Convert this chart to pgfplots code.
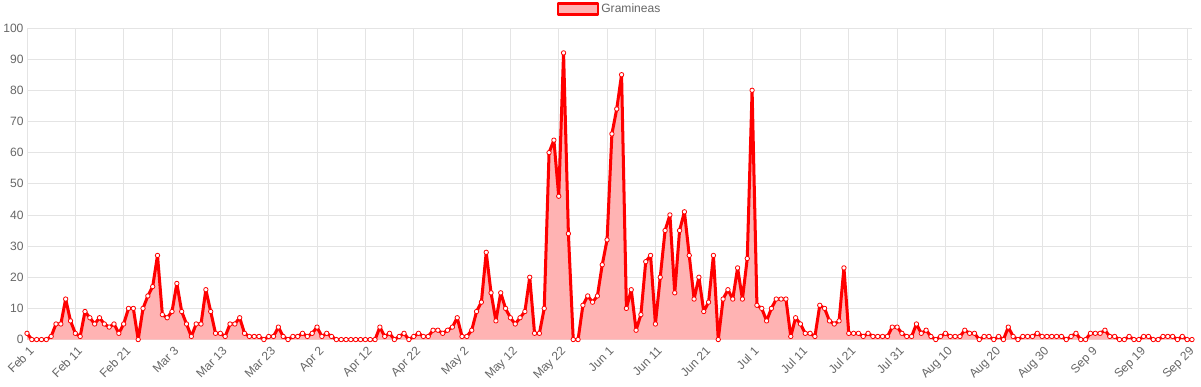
\documentclass[border=0pt]{standalone}
\usepackage{pgfplots}
\pgfplotsset{compat=1.18}
\usepackage{fontspec}
\setmainfont{Liberation Sans}
\definecolor{ln}{RGB}{255,0,0}
\definecolor{fl}{RGB}{255,179,179}
\definecolor{tk}{RGB}{102,102,102}
\definecolor{gr}{RGB}{228,228,228}
\pgfplotstableread{
d v
0 2
1 0
2 0
3 0
4 0
5 1
6 5
7 5
8 13
9 6
10 2
11 1
12 9
13 7
14 5
15 7
16 5
17 4
18 5
19 2
20 5
21 10
22 10
23 0
24 10
25 14
26 17
27 27
28 8
29 7
30 9
31 18
32 9
33 5
34 1
35 5
36 5
37 16
38 9
39 2
40 2
41 1
42 5
43 5
44 7
45 2
46 1
47 1
48 1
49 0
50 1
51 1
52 4
53 1
54 0
55 1
56 1
57 2
58 1
59 2
60 4
61 1
62 2
63 1
64 0
65 0
66 0
67 0
68 0
69 0
70 0
71 0
72 0
73 4
74 1
75 2
76 0
77 1
78 2
79 0
80 1
81 2
82 1
83 1
84 3
85 3
86 2
87 3
88 4
89 7
90 1
91 1
92 3
93 9
94 12
95 28
96 15
97 6
98 15
99 10
100 7
101 5
102 7
103 9
104 20
105 2
106 2
107 10
108 60
109 64
110 46
111 92
112 34
113 0
114 0
115 11
116 14
117 12
118 14
119 24
120 32
121 66
122 74
123 85
124 10
125 16
126 3
127 8
128 25
129 27
130 5
131 20
132 35
133 40
134 15
135 35
136 41
137 27
138 13
139 20
140 9
141 12
142 27
143 0
144 13
145 16
146 13
147 23
148 13
149 26
150 80
151 11
152 10
153 6
154 10
155 13
156 13
157 13
158 1
159 7
160 5
161 2
162 2
163 1
164 11
165 10
166 6
167 5
168 6
169 23
170 2
171 2
172 2
173 1
174 2
175 1
176 1
177 1
178 1
179 4
180 4
181 2
182 1
183 1
184 5
185 2
186 3
187 1
188 0
189 1
190 2
191 1
192 1
193 1
194 3
195 2
196 2
197 0
198 1
199 1
200 0
201 1
202 0
203 4
204 1
205 0
206 1
207 1
208 1
209 2
210 1
211 1
212 1
213 1
214 1
215 0
216 1
217 2
218 0
219 0
220 2
221 2
222 2
223 3
224 1
225 1
226 0
227 0
228 1
229 0
230 0
231 1
232 1
233 0
234 0
235 1
236 1
237 1
238 0
239 1
240 0
241 0
}\data
\begin{document}
\begin{tikzpicture}[x=1bp,y=1bp]
\begin{axis}[
  scale only axis, width=1159bp, height=310bp,
  xmin=0, xmax=241, ymin=0, ymax=100,
  xtick={0,10,...,240},
  xticklabels={Feb 1,Feb 11,Feb 21,Mar 3,Mar 13,Mar 23,Apr 2,Apr 12,Apr 22,May 2,May 12,May 22,Jun 1,Jun 11,Jun 21,Jul 1,Jul 11,Jul 21,Jul 31,Aug 10,Aug 20,Aug 30,Sep 9,Sep 19,Sep 29},
  ytick={0,10,...,100},
  grid=both, grid style={gr, line width=0.8bp},
  axis line style={gr}, tick style={draw=none},
  axis x line*=bottom, axis y line*=left,
  x tick label style={rotate=45, anchor=north east, font=\fontsize{12bp}{14bp}\selectfont, text=tk, yshift=-2bp},
  y tick label style={font=\fontsize{12bp}{14bp}\selectfont, text=tk},
  /pgf/number format/assume math mode=true,
  legend style={at={(0.5,1.03)}, anchor=south, draw=none, fill=none, font=\fontsize{12bp}{14bp}\selectfont, text=tk},
  legend image code/.code={\draw[ln, line width=2.5bp, fill=fl] (0bp,-5bp) rectangle (40bp,6bp);},
  clip=false,
]
\addplot[draw=none, fill=fl, forget plot] table[x=d,y=v]{\data} \closedcycle;
\addplot[ln, line width=3bp, line join=round, mark=*, mark size=2.2bp, mark options={fill=white, draw=ln, line width=0.8bp}] table[x=d,y=v]{\data};
\addlegendentry{Gramineas}
\end{axis}
\end{tikzpicture}
\end{document}
